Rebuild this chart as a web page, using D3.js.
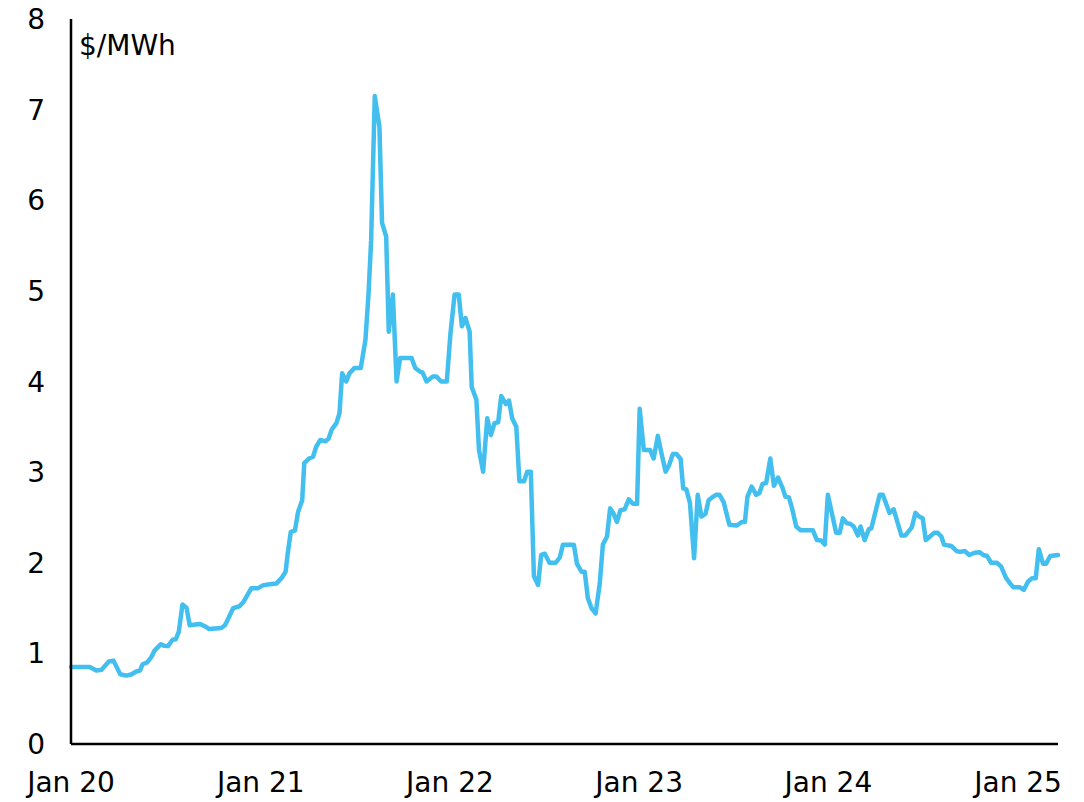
<!DOCTYPE html>
<html>
<head>
<meta charset="utf-8">
<script src="https://cdn.jsdelivr.net/npm/d3@7"></script>
<style>
  body { margin: 0; background: #fff; }
  svg text { font-family: "DejaVu Sans", Verdana, sans-serif; font-size: 28px; fill: #000; }
</style>
</head>
<body>
<div id="chart"></div>
<script>
// roughly weekly
var dates = [
  "2020-01-01","2020-02-06","2020-02-19","2020-02-29","2020-03-14","2020-03-23","2020-04-05","2020-04-17",
  "2020-04-27","2020-05-06","2020-05-13","2020-05-18","2020-05-27","2020-06-04","2020-06-10","2020-06-22",
  "2020-06-28","2020-07-06","2020-07-15","2020-07-21","2020-07-27","2020-08-03","2020-08-11","2020-08-17",
  "2020-09-05","2020-09-15","2020-09-23","2020-10-17","2020-10-24","2020-10-30","2020-11-09","2020-11-21",
  "2020-11-29","2020-12-14","2020-12-27","2021-01-05","2021-01-15","2021-01-31","2021-02-10","2021-02-18",
  "2021-02-22","2021-02-28","2021-03-08","2021-03-14","2021-03-22","2021-03-26","2021-04-04","2021-04-12",
  "2021-04-18","2021-04-26","2021-05-06","2021-05-12","2021-05-18","2021-05-27","2021-06-02","2021-06-07",
  "2021-06-15","2021-06-21","2021-07-01","2021-07-13","2021-07-22","2021-07-28","2021-08-02","2021-08-09",
  "2021-08-18","2021-08-23","2021-08-31","2021-09-05","2021-09-13","2021-09-20","2021-09-27","2021-10-19",
  "2021-10-26","2021-11-04","2021-11-09","2021-11-17","2021-11-29","2021-12-06","2021-12-15","2021-12-26",
  "2022-01-02","2022-01-10","2022-01-18","2022-01-24","2022-01-31","2022-02-08","2022-02-12","2022-02-21",
  "2022-02-26","2022-03-06","2022-03-14","2022-03-21","2022-03-28","2022-04-04","2022-04-10","2022-04-19",
  "2022-04-25","2022-05-01","2022-05-09","2022-05-15","2022-05-24","2022-05-30","2022-06-06","2022-06-12",
  "2022-06-20","2022-06-26","2022-07-03","2022-07-12","2022-07-24","2022-08-01","2022-08-07","2022-08-28",
  "2022-09-03","2022-09-12","2022-09-18","2022-09-24","2022-10-01","2022-10-09","2022-10-17","2022-10-23",
  "2022-10-31","2022-11-06","2022-11-12","2022-11-19","2022-11-26","2022-12-04","2022-12-12","2022-12-20",
  "2022-12-28","2023-01-02","2023-01-10","2023-01-22","2023-01-29","2023-02-06","2023-02-13","2023-02-21",
  "2023-02-28","2023-03-07","2023-03-14","2023-03-22","2023-03-27","2023-04-02","2023-04-09","2023-04-17",
  "2023-04-24","2023-05-01","2023-05-09","2023-05-15","2023-05-24","2023-05-30","2023-06-05","2023-06-13",
  "2023-06-24","2023-07-08","2023-07-18","2023-07-24","2023-07-29","2023-08-06","2023-08-15","2023-08-21",
  "2023-08-27","2023-09-03","2023-09-11","2023-09-18","2023-09-26","2023-10-05","2023-10-10","2023-10-17",
  "2023-10-23","2023-10-31","2023-11-08","2023-12-02","2023-12-10","2023-12-18","2023-12-25","2023-12-31",
  "2024-01-16","2024-01-23","2024-01-29","2024-02-06","2024-02-12","2024-02-19","2024-02-27","2024-03-03",
  "2024-03-11","2024-03-19","2024-03-24","2024-04-09","2024-04-15","2024-04-28","2024-05-06","2024-05-21",
  "2024-05-28","2024-06-10","2024-06-17","2024-06-24","2024-07-01","2024-07-07","2024-07-15","2024-07-23",
  "2024-07-30","2024-08-06","2024-08-11","2024-08-25","2024-09-04","2024-09-11","2024-09-20","2024-09-29",
  "2024-10-09","2024-10-19","2024-10-26","2024-11-02","2024-11-10","2024-11-21","2024-11-29","2024-12-09",
  "2024-12-17","2024-12-23","2025-01-04","2025-01-12","2025-01-20","2025-01-28","2025-02-04","2025-02-10",
  "2025-02-18","2025-02-24","2025-03-04","2025-03-19"
];

var prices = [
  0.85,0.85,0.81,0.82,0.91,0.92,0.77,0.755,
  0.77,0.80,0.81,0.88,0.90,0.96,1.03,1.10,
  1.085,1.08,1.15,1.155,1.24,1.54,1.50,1.31,
  1.325,1.30,1.27,1.28,1.31,1.38,1.50,1.52,
  1.57,1.72,1.72,1.75,1.76,1.77,1.83,1.90,
  2.10,2.34,2.355,2.56,2.69,3.10,3.15,3.17,
  3.28,3.355,3.34,3.37,3.47,3.54,3.65,4.09,
  4.00,4.09,4.15,4.15,4.46,4.97,5.56,7.15,
  6.81,5.75,5.60,4.55,4.96,4.00,4.26,4.26,
  4.15,4.11,4.10,4.00,4.055,4.055,4.00,4.00,
  4.53,4.96,4.96,4.61,4.70,4.55,3.94,3.80,
  3.245,3.005,3.595,3.41,3.54,3.55,3.84,3.75,
  3.79,3.595,3.50,2.90,2.90,3.005,3.005,1.85,
  1.755,2.086,2.10,2.00,2.00,2.06,2.20,2.20,
  1.99,1.90,1.90,1.61,1.50,1.44,1.77,2.20,
  2.29,2.60,2.55,2.45,2.58,2.59,2.70,2.65,
  2.65,3.70,3.245,3.245,3.15,3.40,3.21,3.005,
  3.08,3.20,3.20,3.145,2.82,2.81,2.66,2.05,
  2.75,2.51,2.54,2.69,2.73,2.75,2.75,2.67,
  2.42,2.41,2.45,2.45,2.73,2.84,2.75,2.77,
  2.87,2.88,3.15,2.85,2.94,2.82,2.73,2.72,
  2.60,2.40,2.36,2.36,2.25,2.245,2.20,2.75,
  2.33,2.33,2.49,2.435,2.43,2.40,2.30,2.40,
  2.25,2.37,2.38,2.75,2.75,2.55,2.59,2.30,
  2.30,2.39,2.55,2.51,2.49,2.25,2.29,2.33,
  2.33,2.29,2.20,2.185,2.13,2.12,2.13,2.085,
  2.11,2.115,2.085,2.075,2.00,2.00,1.96,1.83,
  1.77,1.73,1.73,1.70,1.79,1.83,1.83,2.15,
  1.99,1.99,2.075,2.085
];

var yTicks = [0, 1, 2, 3, 4, 5, 6, 7, 8];
var xTicks = ["2020-01-01","2021-01-01","2022-01-01","2023-01-01","2024-01-01","2025-01-01"];
var xTickLabels = ["Jan 20","Jan 21","Jan 22","Jan 23","Jan 24","Jan 25"];
var unitLabel = "$/MWh";

var parse = d3.timeParse("%Y-%m-%d");
var data = dates.map((d, i) => ({ date: parse(d), value: prices[i] }));

var width = 1084;
var height = 802;
var margin = { top: 19, right: 26, bottom: 58, left: 71 };

var svg = d3.select("#chart")
            .append("svg")
            .attr("width", width)
            .attr("height", height);

var xScale = d3.scaleTime()
               .domain([parse("2020-01-01"), parse("2025-03-19")])
               .range([margin.left, width - margin.right]);

var yScale = d3.scaleLinear()
               .domain([0, 8])
               .range([height - margin.bottom, margin.top]);

// y labels, no tick marks
svg.append("g")
   .selectAll("text")
   .data(yTicks)
   .join("text")
   .attr("x", 45)
   .attr("y", d => yScale(d))
   .attr("dy", "0.36em")
   .attr("text-anchor", "end")
   .text(d => d);

// x labels
svg.append("g")
   .selectAll("text")
   .data(xTicks)
   .join("text")
   .attr("x", d => xScale(parse(d)))
   .attr("y", height - 10)
   .attr("text-anchor", "middle")
   .text((d, i) => xTickLabels[i]);

svg.append("text")
   .attr("x", margin.left + 8)
   .attr("y", 55)
   .text(unitLabel);

var line = d3.line()
             .x(d => xScale(d.date))
             .y(d => yScale(d.value));

svg.append("path")
   .datum(data)
   .attr("fill", "none")
   .attr("stroke", "#42bfee")
   .attr("stroke-width", 4.5)
   .attr("stroke-linejoin", "round")
   .attr("stroke-linecap", "round")
   .attr("d", line);

// axis lines
svg.append("line")
   .attr("x1", margin.left).attr("x2", margin.left)
   .attr("y1", margin.top).attr("y2", yScale(0))
   .attr("stroke", "#000").attr("stroke-width", 2.5);

svg.append("line")
   .attr("x1", margin.left).attr("x2", width - margin.right)
   .attr("y1", yScale(0)).attr("y2", yScale(0))
   .attr("stroke", "#000").attr("stroke-width", 2.5);
</script>
</body>
</html>
